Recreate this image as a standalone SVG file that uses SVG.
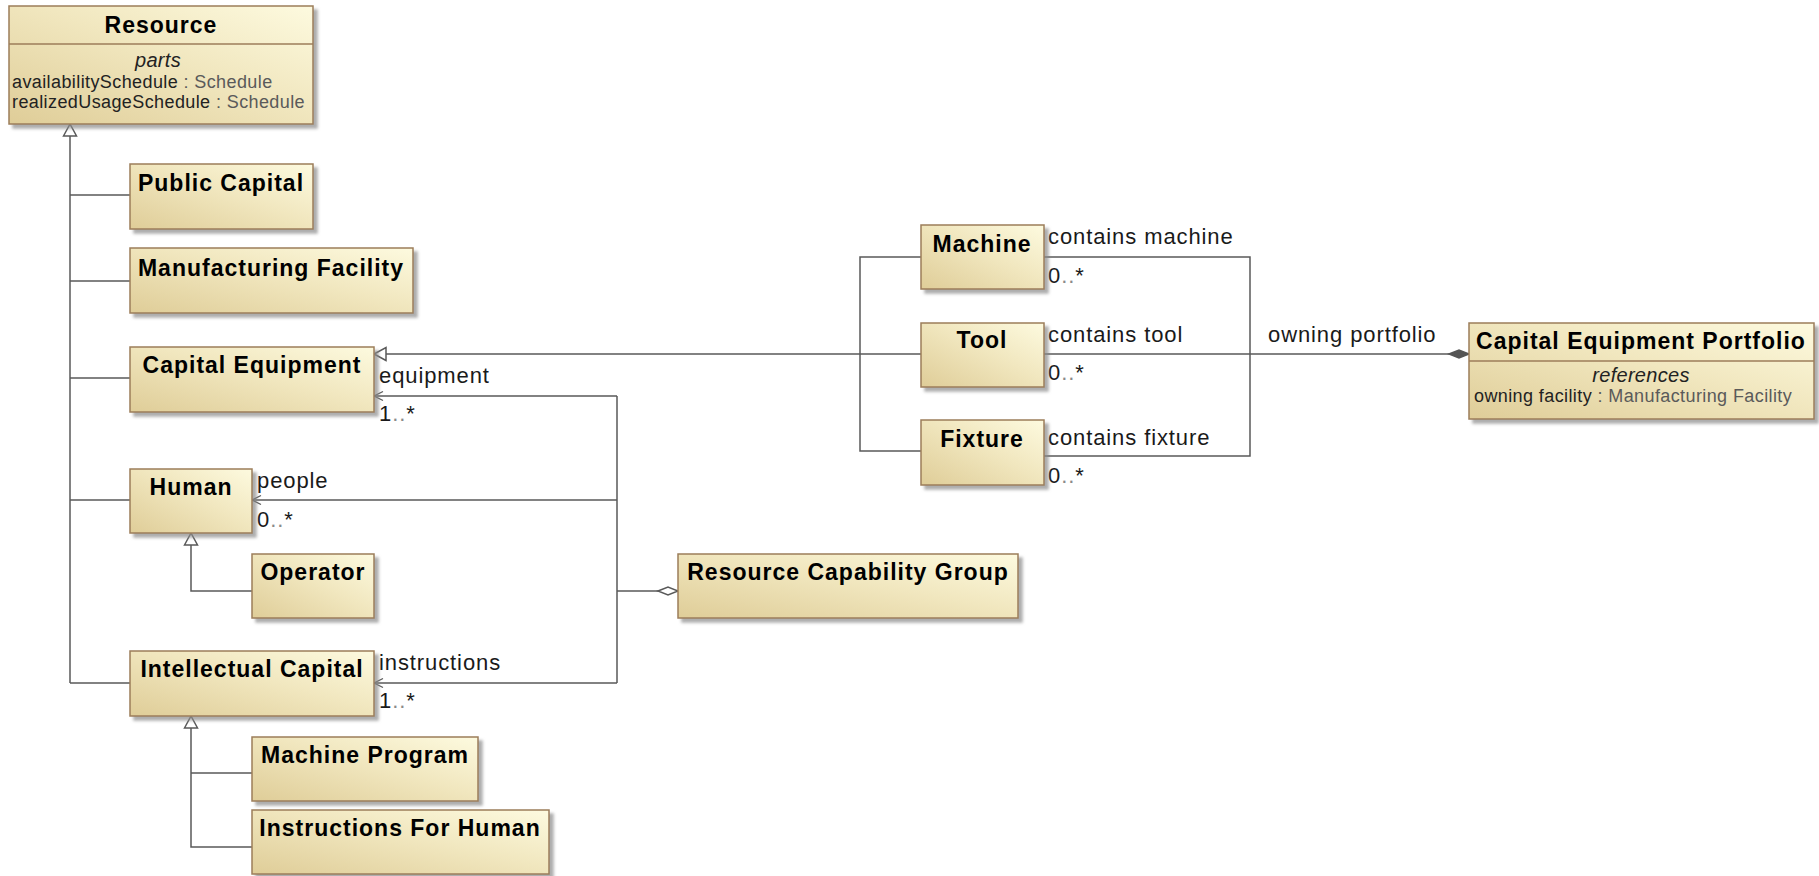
<svg xmlns="http://www.w3.org/2000/svg" width="1819" height="876" viewBox="0 0 1819 876">
  <defs>
    <linearGradient id="fillGrad" x1="0" y1="1" x2="1" y2="0">
      <stop offset="0" stop-color="#dfcd98"/>
      <stop offset="0.55" stop-color="#f1e7bf"/>
      <stop offset="1" stop-color="#fdfadf"/>
    </linearGradient>
    <filter id="shadow" x="-5%" y="-10%" width="115%" height="130%">
      <feDropShadow dx="4" dy="4" stdDeviation="1.6" flood-color="#8a8a8a" flood-opacity="0.7"/>
    </filter>
    <!-- hollow triangle for generalization -->
    <marker id="gen" markerWidth="16" markerHeight="16" refX="12" refY="7" orient="auto" markerUnits="userSpaceOnUse" overflow="visible">
      <path d="M0,0.5 L12,7 L0,13.5 Z" fill="#ffffff" stroke="#595959" stroke-width="1.5"/>
    </marker>
    <!-- open arrow for navigable association end -->
    <marker id="nav" markerWidth="12" markerHeight="12" refX="9" refY="5" orient="auto" markerUnits="userSpaceOnUse" overflow="visible">
      <path d="M0,0.5 L9,5 L0,9.5" fill="none" stroke="#595959" stroke-width="1.3"/>
    </marker>
    <!-- shared aggregation -->
    <marker id="agg" markerWidth="22" markerHeight="12" refX="20" refY="4.5" orient="auto" markerUnits="userSpaceOnUse" overflow="visible">
      <path d="M0,4.5 L10,0.5 L20,4.5 L10,8.5 Z" fill="#ffffff" stroke="#595959" stroke-width="1.5"/>
    </marker>
    <!-- composite aggregation -->
    <marker id="comp" markerWidth="22" markerHeight="12" refX="20" refY="4.5" orient="auto" markerUnits="userSpaceOnUse" overflow="visible">
      <path d="M0,4.5 L10,0.5 L20,4.5 L10,8.5 Z" fill="#555555" stroke="#555555" stroke-width="1.5"/>
    </marker>
  </defs>
  <style>
    .box { fill: url(#fillGrad); stroke: #9c7d5a; stroke-width: 1.5; filter: url(#shadow); }
    .sep { stroke: #9c7d5a; stroke-width: 1.5; }
    .title { font-family: "Liberation Sans", Arial, sans-serif; font-weight: bold; font-size: 23px; letter-spacing: 1px; fill: #000000; text-anchor: middle; }
    .lbl { font-family: "Liberation Sans", Arial, sans-serif; font-size: 22px; letter-spacing: 0.9px; fill: #1a1a1a; }
    .dots { fill: #8a8a8a; }
    .attr { font-family: "Liberation Sans", Arial, sans-serif; font-size: 18px; letter-spacing: 0.4px; fill: #222222; }
    .ital { font-family: "Liberation Sans", Arial, sans-serif; font-size: 20px; letter-spacing: 0.3px; font-style: italic; fill: #222222; text-anchor: middle; }
    .type { fill: #5a5a5a; }
    .edge { fill: none; stroke: #595959; stroke-width: 1.5; }
  </style>

  <rect width="1819" height="876" fill="#ffffff"/>

  <!-- connectors -->
  <g id="connectors">
    <!-- specializations of Resource -->
    <path class="edge" d="M70,683 V124" marker-end="url(#gen)"/>
    <path class="edge" d="M70,195 H130 M70,281 H130 M70,378 H130 M70,500 H130 M70,683 H130"/>
    <!-- Operator specializes Human -->
    <path class="edge" d="M252,591 H191 V533" marker-end="url(#gen)"/>
    <!-- Machine Program / Instructions For Human specialize Intellectual Capital -->
    <path class="edge" d="M252,847 H191 V716" marker-end="url(#gen)"/>
    <path class="edge" d="M191,773 H252"/>
    <!-- Machine / Tool / Fixture specialize Capital Equipment -->
    <path class="edge" d="M921,354 H374" marker-end="url(#gen)"/>
    <path class="edge" d="M921,257 H860 V451 H921"/>
    <!-- Resource Capability Group associations -->
    <path class="edge" d="M617,591 H678" marker-end="url(#agg)"/>
    <path class="edge" d="M617,396 V683"/>
    <path class="edge" d="M617,396 H374" marker-end="url(#nav)"/>
    <path class="edge" d="M617,500 H252" marker-end="url(#nav)"/>
    <path class="edge" d="M617,683 H374" marker-end="url(#nav)"/>
    <!-- Capital Equipment Portfolio composition -->
    <path class="edge" d="M1044,257 H1250 V456 H1044"/>
    <path class="edge" d="M1044,354 H1469" marker-end="url(#comp)"/>

    <!-- association end labels -->
    <text class="lbl" x="379" y="383">equipment</text>
    <text class="lbl" x="379" y="421">1<tspan class="dots">..</tspan>*</text>
    <text class="lbl" x="257" y="488">people</text>
    <text class="lbl" x="257" y="527">0<tspan class="dots">..</tspan>*</text>
    <text class="lbl" x="379" y="670">instructions</text>
    <text class="lbl" x="379" y="708">1<tspan class="dots">..</tspan>*</text>
    <text class="lbl" x="1048" y="244">contains machine</text>
    <text class="lbl" x="1048" y="283">0<tspan class="dots">..</tspan>*</text>
    <text class="lbl" x="1048" y="342">contains tool</text>
    <text class="lbl" x="1048" y="380">0<tspan class="dots">..</tspan>*</text>
    <text class="lbl" x="1048" y="445">contains fixture</text>
    <text class="lbl" x="1048" y="483">0<tspan class="dots">..</tspan>*</text>
    <text class="lbl" x="1268" y="342">owning portfolio</text>
  </g>

  <!-- blocks -->
  <g id="resource">
    <rect class="box" x="9" y="6" width="304" height="118"/>
    <line class="sep" x1="9" y1="44" x2="313" y2="44"/>
    <text class="title" x="161" y="33">Resource</text>
    <text class="ital" x="158" y="67">parts</text>
    <text class="attr" x="12" y="88">availabilitySchedule<tspan class="type"> : Schedule</tspan></text>
    <text class="attr" x="12" y="108">realizedUsageSchedule<tspan class="type"> : Schedule</tspan></text>
  </g>
  <g id="public-capital">
    <rect class="box" x="130" y="164" width="183" height="65"/>
    <text class="title" x="221" y="191">Public Capital</text>
  </g>
  <g id="manufacturing-facility">
    <rect class="box" x="130" y="248" width="283" height="65"/>
    <text class="title" x="271" y="276">Manufacturing Facility</text>
  </g>
  <g id="capital-equipment">
    <rect class="box" x="130" y="347" width="244" height="65"/>
    <text class="title" x="252" y="373">Capital Equipment</text>
  </g>
  <g id="human">
    <rect class="box" x="130" y="469" width="122" height="64"/>
    <text class="title" x="191" y="495">Human</text>
  </g>
  <g id="operator">
    <rect class="box" x="252" y="554" width="122" height="64"/>
    <text class="title" x="313" y="580">Operator</text>
  </g>
  <g id="intellectual-capital">
    <rect class="box" x="130" y="651" width="244" height="65"/>
    <text class="title" x="252" y="677">Intellectual Capital</text>
  </g>
  <g id="machine-program">
    <rect class="box" x="252" y="737" width="226" height="64"/>
    <text class="title" x="365" y="763">Machine Program</text>
  </g>
  <g id="instructions-for-human">
    <rect class="box" x="252" y="810" width="297" height="64"/>
    <text class="title" x="400" y="836">Instructions For Human</text>
  </g>
  <g id="resource-capability-group">
    <rect class="box" x="678" y="554" width="340" height="64"/>
    <text class="title" x="848" y="580">Resource Capability Group</text>
  </g>
  <g id="machine">
    <rect class="box" x="921" y="225" width="123" height="64"/>
    <text class="title" x="982" y="252">Machine</text>
  </g>
  <g id="tool">
    <rect class="box" x="921" y="323" width="123" height="64"/>
    <text class="title" x="982" y="348">Tool</text>
  </g>
  <g id="fixture">
    <rect class="box" x="921" y="420" width="123" height="65"/>
    <text class="title" x="982" y="447">Fixture</text>
  </g>
  <g id="capital-equipment-portfolio">
    <rect class="box" x="1469" y="323" width="345" height="96"/>
    <line class="sep" x1="1469" y1="361" x2="1814" y2="361"/>
    <text class="title" x="1641" y="349">Capital Equipment Portfolio</text>
    <text class="ital" x="1641" y="382">references</text>
    <text class="attr" x="1474" y="402">owning facility<tspan class="type"> : Manufacturing Facility</tspan></text>
  </g>
</svg>
